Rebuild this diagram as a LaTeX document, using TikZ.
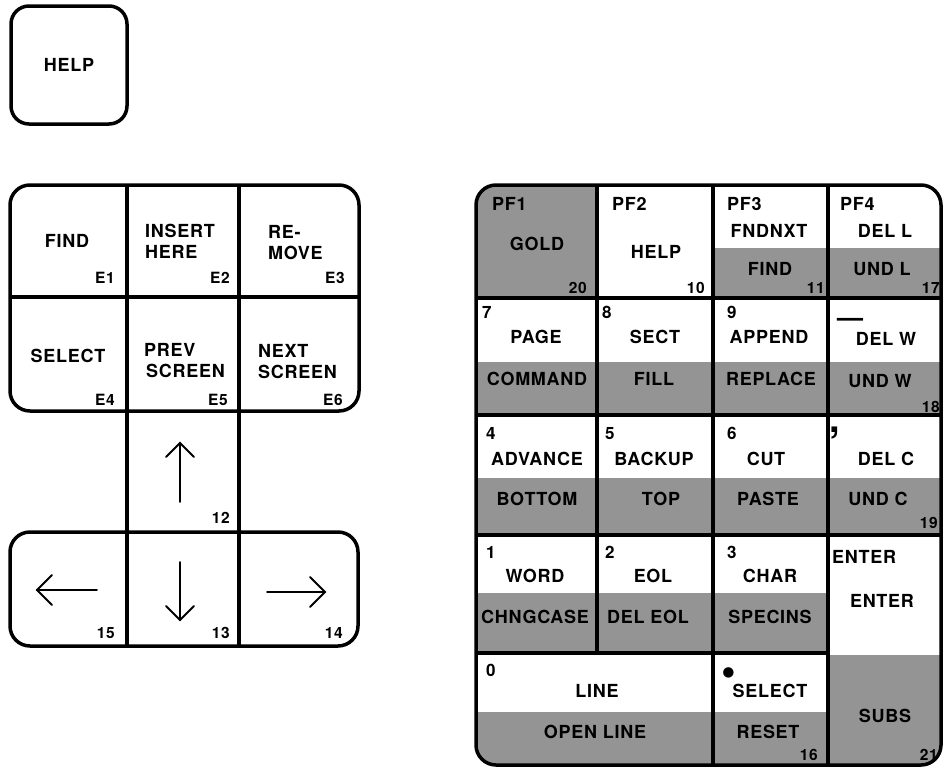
\documentclass[tikz,border=0pt]{standalone}
\usepackage{fontspec}
\setmainfont{TeX Gyre Heros}
\newfontfamily\kf{TeX Gyre Heros}[LetterSpace=4]
\definecolor{stip}{RGB}{148,148,148}
\begin{document}
\begin{tikzpicture}[x=1pt,y=-1pt,
  frame/.style={draw, rounded corners=20pt, line width=3.5pt},
  div/.style={line width=3.5pt},
  lab/.style={inner sep=0pt, anchor=base, font=\kf\bfseries\fontsize{18pt}{21pt}\selectfont},
  labl/.style={lab, anchor=base west},
  dig/.style={inner sep=0pt, anchor=base west, font=\kf\bfseries\fontsize{17pt}{19pt}\selectfont},
  num/.style={inner sep=0pt, anchor=base east, font=\kf\bfseries\fontsize{15.5pt}{18pt}\selectfont},
  arr/.style={line width=1.8pt, line cap=round, line join=miter}
]
\useasboundingbox (0,0) rectangle (944,771);

% ---------- single HELP key ----------
\draw[frame, rounded corners=18pt] (11,6) rectangle (127,124);
\node[lab] (helpk) at (69,71) {HELP};

% ---------- left keypad ----------
\draw[frame] (10,185) rectangle (359,411);
\draw[frame] (10,532) rectangle (358,646);
\draw[div] (127,185) -- (127,646);
\draw[div] (239,185) -- (239,646);
\draw[div] (10,297) -- (359,297);

\node[lab] (find) at (67,247) {FIND};
\node[labl] (ins1) at (145,237) {INSERT};
\node[labl] (ins2) at (145,258) {HERE};
\node[labl] (rem1) at (268,238) {RE-};
\node[labl] (rem2) at (268,259) {MOVE};
\node[num] (e1) at (115,283) {E1};
\node[num] (e2) at (230,283) {E2};
\node[num] (e3) at (345,283) {E3};
\node[lab] (sel) at (68,362) {SELECT};
\node[labl] (prev1) at (144,356) {PREV};
\node[labl] (prev2) at (146,377) {SCREEN};
\node[labl] (next1) at (258,357) {NEXT};
\node[labl] (next2) at (258,378) {SCREEN};
\node[num] (e4) at (115,405) {E4};
\node[num] (e5) at (228,405) {E5};
\node[num] (e6) at (343,405) {E6};
\node[num] (n12) at (230,523) {12};
\node[num] (n15) at (115,638) {15};
\node[num] (n13) at (230,638) {13};
\node[num] (n14) at (343,638) {14};

% arrows
\draw[arr] (180,502) -- (180,443);
\draw[arr] (166,457) -- (180,443) -- (194,457);
\draw[arr] (180,562) -- (180,620);
\draw[arr] (166,606) -- (180,620) -- (194,606);
\draw[arr] (97,590) -- (37,590);
\draw[arr] (52,575) -- (37,590) -- (52,605);
\draw[arr] (267,592) -- (325,592);
\draw[arr] (310,577) -- (325,592) -- (310,607);

% ---------- right keypad ----------
\begin{scope}
  \clip[rounded corners=20pt] (476,185) rectangle (941,765);
  \fill[stip] (476,185) rectangle (597,298);
  \fill[stip] (713,248) rectangle (941,298);
  \fill[stip] (476,362) rectangle (941,415);
  \fill[stip] (476,478) rectangle (941,535);
  \fill[stip] (476,593) rectangle (828,653);
  \fill[stip] (828,655) rectangle (941,765);
  \fill[stip] (476,712) rectangle (828,765);
\end{scope}
\draw[frame] (476,185) rectangle (941,765);
\draw[div] (597,185) -- (597,653);
\draw[div] (713,185) -- (713,765);
\draw[div] (828,185) -- (828,765);
\draw[div] (476,298) -- (941,298);
\draw[div] (476,415) -- (941,415);
\draw[div] (476,535) -- (941,535);
\draw[div] (476,653) -- (828,653);

% PF row
\node[labl] (pf1) at (492,210) {PF1};
\node[lab] (gold) at (537,250) {GOLD};
\node[num] (n20) at (587,293) {20};
\node[labl] (pf2) at (612,210) {PF2};
\node[lab] (help2) at (656,258) {HELP};
\node[num] (n10) at (705,293) {10};
\node[labl] (pf3) at (727,210) {PF3};
\node[lab] (fndnxt) at (769,237) {FNDNXT};
\node[lab] (findb) at (770,275) {FIND};
\node[num] (n11) at (825,293) {11};
\node[labl] (pf4) at (840,210) {PF4};
\node[lab] (dell) at (885,237) {DEL L};
\node[lab] (undl) at (882,275) {UND L};
\node[num] (n17) at (940,293) {17};

% 7 8 9 - row
\node[dig] (d7) at (482,318) {7};
\node[lab] (page) at (536,343) {PAGE};
\node[lab] (command) at (537,385) {COMMAND};
\node[dig] (d8) at (602,318) {8};
\node[lab] (sect) at (655,343) {SECT};
\node[lab] (fill) at (654,385) {FILL};
\node[dig] (d9) at (727,318) {9};
\node[lab] (append) at (769,343) {APPEND};
\node[lab] (replace) at (771,385) {REPLACE};
\node[inner sep=0pt, anchor=base west, font=\bfseries\fontsize{26pt}{28pt}\selectfont] (dminus) at (837,326) {—};
\node[lab] (delw) at (886,345) {DEL W};
\node[lab] (undw) at (880,387) {UND W};
\node[num] (n18) at (940,412) {18};

% 4 5 6 , row
\node[dig] (d4) at (486,439) {4};
\node[lab] (advance) at (537,465) {ADVANCE};
\node[lab] (bottom) at (537,505) {BOTTOM};
\node[dig] (d5) at (605,439) {5};
\node[lab] (backup) at (654,465) {BACKUP};
\node[lab] (top) at (661,505) {TOP};
\node[dig] (d6) at (727,439) {6};
\node[lab] (cut) at (766,465) {CUT};
\node[lab] (paste) at (768,505) {PASTE};
\node[inner sep=0pt, anchor=north west, font=\bfseries\fontsize{38pt}{40pt}\selectfont] (dcomma) at (829,427) {,};
\node[lab] (delc) at (886,465) {DEL C};
\node[lab] (undc) at (878,505) {UND C};
\node[num] (n19) at (938,528) {19};

% 1 2 3 ENTER row
\node[dig] (d1) at (486,558) {1};
\node[lab] (word) at (535,582) {WORD};
\node[lab] (chng) at (535,623) {CHNGCASE};
\node[dig] (d2) at (605,558) {2};
\node[lab] (eol) at (653,582) {EOL};
\node[lab] (deleol) at (648,623) {DEL EOL};
\node[dig] (d3) at (727,558) {3};
\node[lab] (char) at (770,582) {CHAR};
\node[lab] (specins) at (770,623) {SPECINS};
\node[labl] (enter1) at (832,563) {ENTER};
\node[lab] (enter2) at (882,607) {ENTER};

% 0 . row
\node[dig] (d0) at (486,676) {0};
\node[lab] (line) at (597,697) {LINE};
\node[lab] (openline) at (595,738) {OPEN LINE};
\node[inner sep=0pt, font=\bfseries\fontsize{42pt}{44pt}\selectfont] (dpoint) at (729,677) {•};
\node[lab] (select2) at (770,697) {SELECT};
\node[lab] (reset) at (768,738) {RESET};
\node[num] (n16) at (818,760) {16};
\node[lab] (subs) at (885,722) {SUBS};
\node[num] (n21) at (938,760) {21};
\end{tikzpicture}
\end{document}
